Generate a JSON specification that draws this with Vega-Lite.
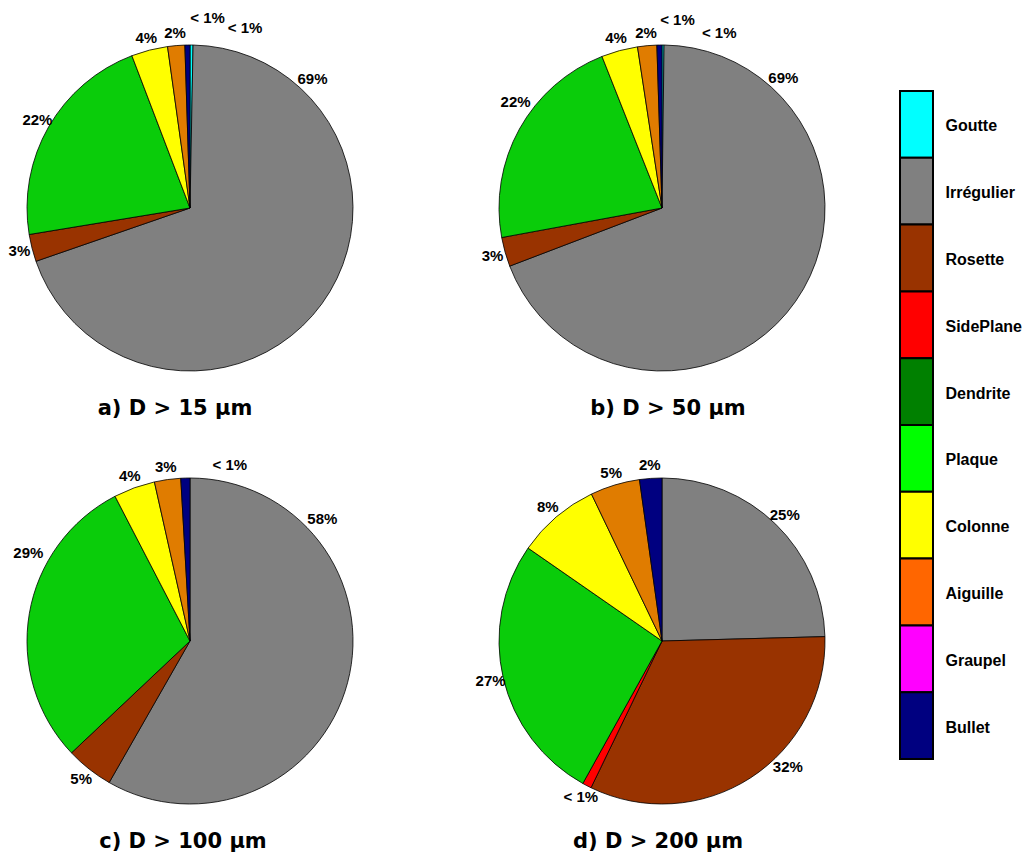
{
  "$schema": "https://vega.github.io/schema/vega-lite/v6.json",
  "padding": {"top": 10, "left": 0, "right": 0, "bottom": 0},
  "background": "white",
  "config": {"view": {"stroke": null}},
  "datasets": {
    "pies": [
      {"panel": "a", "type": "Goutte", "ord": 0, "pct": 0.3, "label": "< 1%"},
      {"panel": "a", "type": "Irrégulier", "ord": 1, "pct": 69.4, "label": "69%"},
      {"panel": "a", "type": "Rosette", "ord": 2, "pct": 2.7, "label": "3%"},
      {"panel": "a", "type": "Plaque", "ord": 5, "pct": 21.8, "label": "22%"},
      {"panel": "a", "type": "Colonne", "ord": 6, "pct": 3.6, "label": "4%"},
      {"panel": "a", "type": "Aiguille", "ord": 7, "pct": 1.7, "label": "2%"},
      {"panel": "a", "type": "Bullet", "ord": 9, "pct": 0.5, "label": "< 1%"},
      {"panel": "b", "type": "Goutte", "ord": 0, "pct": 0.2, "label": "< 1%"},
      {"panel": "b", "type": "Irrégulier", "ord": 1, "pct": 69.0, "label": "69%"},
      {"panel": "b", "type": "Rosette", "ord": 2, "pct": 2.9, "label": "3%"},
      {"panel": "b", "type": "Plaque", "ord": 5, "pct": 21.9, "label": "22%"},
      {"panel": "b", "type": "Colonne", "ord": 6, "pct": 3.6, "label": "4%"},
      {"panel": "b", "type": "Aiguille", "ord": 7, "pct": 1.9, "label": "2%"},
      {"panel": "b", "type": "Bullet", "ord": 9, "pct": 0.5, "label": "< 1%"},
      {"panel": "c", "type": "Irrégulier", "ord": 1, "pct": 58.2, "label": "58%"},
      {"panel": "c", "type": "Rosette", "ord": 2, "pct": 4.7, "label": "5%"},
      {"panel": "c", "type": "Plaque", "ord": 5, "pct": 29.4, "label": "29%"},
      {"panel": "c", "type": "Colonne", "ord": 6, "pct": 4.1, "label": "4%"},
      {"panel": "c", "type": "Aiguille", "ord": 7, "pct": 2.6, "label": "3%"},
      {"panel": "c", "type": "Bullet", "ord": 9, "pct": 0.9, "label": "< 1%"},
      {"panel": "d", "type": "Irrégulier", "ord": 1, "pct": 24.5, "label": "25%"},
      {"panel": "d", "type": "Rosette", "ord": 2, "pct": 32.5, "label": "32%"},
      {"panel": "d", "type": "SidePlane", "ord": 3, "pct": 0.9, "label": "< 1%"},
      {"panel": "d", "type": "Plaque", "ord": 5, "pct": 26.5, "label": "27%"},
      {"panel": "d", "type": "Colonne", "ord": 6, "pct": 8.2, "label": "8%"},
      {"panel": "d", "type": "Aiguille", "ord": 7, "pct": 4.9, "label": "5%"},
      {"panel": "d", "type": "Bullet", "ord": 9, "pct": 2.2, "label": "2%"}
    ],
    "types": [
      {"type": "Goutte", "ord": 0},
      {"type": "Irrégulier", "ord": 1},
      {"type": "Rosette", "ord": 2},
      {"type": "SidePlane", "ord": 3},
      {"type": "Dendrite", "ord": 4},
      {"type": "Plaque", "ord": 5},
      {"type": "Colonne", "ord": 6},
      {"type": "Aiguille", "ord": 7},
      {"type": "Graupel", "ord": 8},
      {"type": "Bullet", "ord": 9}
    ]
  },
  "resolve": {"scale": {"color": "independent"}},
  "spacing": 47,
  "hconcat": [
    {
      "spacing": 32,
      "vconcat": [
        {
          "spacing": 92,
          "hconcat": [
            {
              "width": 380, "height": 380,
              "data": {"name": "pies"},
              "transform": [{"filter": "datum.panel == 'a'"}],
              "title": {"text": "a) D > 15 µm", "orient": "bottom", "font": "DejaVu Sans", "fontSize": 21, "fontWeight": "bold", "color": "black", "offset": 0, "dx": -15},
              "encoding": {
                "theta": {"field": "pct", "type": "quantitative", "stack": true},
                "order": {"field": "ord", "type": "quantitative"}
              },
              "layer": [
                {"mark": {"type": "arc", "outerRadius": 163, "stroke": "black", "strokeWidth": 0.8},
                 "encoding": {"color": {"field": "type", "type": "nominal", "legend": null,
                   "scale": {"domain": ["Goutte","Irrégulier","Rosette","SidePlane","Dendrite","Plaque","Colonne","Aiguille","Graupel","Bullet"],
                             "range": ["#00FFFF","#808080","#993300","#FF0000","#008000","#0ACC0A","#FFFF00","#E07C00","#FF00FF","#000080"]}}}},
                {"mark": {"type": "text", "radius": 176, "font": "Liberation Sans", "fontSize": 15, "fontWeight": "bold", "fill": "black"},
                 "encoding": {"text": {"condition": {"test": "datum.label == '< 1%' || datum.type == 'Irrégulier'", "value": ""}, "field": "label"}}},
                {"transform": [{"filter": "datum.type == 'Irrégulier'"}],
                 "mark": {"type": "text", "theta": 0.759, "radius": 178, "font": "Liberation Sans", "fontSize": 15, "fontWeight": "bold", "fill": "black"},
                 "encoding": {"theta": null, "order": null, "text": {"field": "label"}}},
                {"transform": [{"filter": "datum.type == 'Bullet'"}],
                 "mark": {"type": "text", "theta": 0.092, "radius": 191, "font": "Liberation Sans", "fontSize": 15, "fontWeight": "bold", "fill": "black"},
                 "encoding": {"theta": null, "order": null, "text": {"field": "label"}}},
                {"transform": [{"filter": "datum.type == 'Goutte'"}],
                 "mark": {"type": "text", "theta": 0.297, "radius": 188, "font": "Liberation Sans", "fontSize": 15, "fontWeight": "bold", "fill": "black"},
                 "encoding": {"theta": null, "order": null, "text": {"field": "label"}}}
              ]
            },
            {
              "width": 380, "height": 380,
              "data": {"name": "pies"},
              "transform": [{"filter": "datum.panel == 'b'"}],
              "title": {"text": "b) D > 50 µm", "orient": "bottom", "font": "DejaVu Sans", "fontSize": 21, "fontWeight": "bold", "color": "black", "offset": 0, "dx": 6},
              "encoding": {
                "theta": {"field": "pct", "type": "quantitative", "stack": true},
                "order": {"field": "ord", "type": "quantitative"}
              },
              "layer": [
                {"mark": {"type": "arc", "outerRadius": 163, "stroke": "black", "strokeWidth": 0.8},
                 "encoding": {"color": {"field": "type", "type": "nominal", "legend": null,
                   "scale": {"domain": ["Goutte","Irrégulier","Rosette","SidePlane","Dendrite","Plaque","Colonne","Aiguille","Graupel","Bullet"],
                             "range": ["#00FFFF","#808080","#993300","#FF0000","#008000","#0ACC0A","#FFFF00","#E07C00","#FF00FF","#000080"]}}}},
                {"mark": {"type": "text", "radius": 176, "font": "Liberation Sans", "fontSize": 15, "fontWeight": "bold", "fill": "black"},
                 "encoding": {"text": {"condition": {"test": "datum.label == '< 1%' || datum.type == 'Irrégulier' || datum.type == 'Plaque'", "value": ""}, "field": "label"}}},
                {"transform": [{"filter": "datum.type == 'Irrégulier'"}],
                 "mark": {"type": "text", "theta": 0.750, "radius": 178, "font": "Liberation Sans", "fontSize": 15, "fontWeight": "bold", "fill": "black"},
                 "encoding": {"theta": null, "order": null, "text": {"field": "label"}}},
                {"transform": [{"filter": "datum.type == 'Plaque'"}],
                 "mark": {"type": "text", "theta": 5.341, "radius": 181, "font": "Liberation Sans", "fontSize": 15, "fontWeight": "bold", "fill": "black"},
                 "encoding": {"theta": null, "order": null, "text": {"field": "label"}}},
                {"transform": [{"filter": "datum.type == 'Bullet'"}],
                 "mark": {"type": "text", "theta": 0.082, "radius": 189, "font": "Liberation Sans", "fontSize": 15, "fontWeight": "bold", "fill": "black"},
                 "encoding": {"theta": null, "order": null, "text": {"field": "label"}}},
                {"transform": [{"filter": "datum.type == 'Goutte'"}],
                 "mark": {"type": "text", "theta": 0.316, "radius": 184, "font": "Liberation Sans", "fontSize": 15, "fontWeight": "bold", "fill": "black"},
                 "encoding": {"theta": null, "order": null, "text": {"field": "label"}}}
              ]
            }
          ]
        },
        {
          "spacing": 92,
          "hconcat": [
            {
              "width": 380, "height": 380,
              "data": {"name": "pies"},
              "transform": [{"filter": "datum.panel == 'c'"}],
              "title": {"text": "c) D > 100 µm", "orient": "bottom", "font": "DejaVu Sans", "fontSize": 21, "fontWeight": "bold", "color": "black", "offset": 0, "dx": -7},
              "encoding": {
                "theta": {"field": "pct", "type": "quantitative", "stack": true},
                "order": {"field": "ord", "type": "quantitative"}
              },
              "layer": [
                {"mark": {"type": "arc", "outerRadius": 163, "stroke": "black", "strokeWidth": 0.8},
                 "encoding": {"color": {"field": "type", "type": "nominal", "legend": null,
                   "scale": {"domain": ["Goutte","Irrégulier","Rosette","SidePlane","Dendrite","Plaque","Colonne","Aiguille","Graupel","Bullet"],
                             "range": ["#00FFFF","#808080","#993300","#FF0000","#008000","#0ACC0A","#FFFF00","#E07C00","#FF00FF","#000080"]}}}},
                {"mark": {"type": "text", "radius": 176, "font": "Liberation Sans", "fontSize": 15, "fontWeight": "bold", "fill": "black"},
                 "encoding": {"text": {"condition": {"test": "datum.label == '< 1%' || datum.type == 'Irrégulier' || datum.type == 'Plaque'", "value": ""}, "field": "label"}}},
                {"transform": [{"filter": "datum.type == 'Irrégulier'"}],
                 "mark": {"type": "text", "theta": 0.826, "radius": 180, "font": "Liberation Sans", "fontSize": 15, "fontWeight": "bold", "fill": "black"},
                 "encoding": {"theta": null, "order": null, "text": {"field": "label"}}},
                {"transform": [{"filter": "datum.type == 'Plaque'"}],
                 "mark": {"type": "text", "theta": 5.210, "radius": 184, "font": "Liberation Sans", "fontSize": 15, "fontWeight": "bold", "fill": "black"},
                 "encoding": {"theta": null, "order": null, "text": {"field": "label"}}},
                {"transform": [{"filter": "datum.type == 'Bullet'"}],
                 "mark": {"type": "text", "theta": 0.223, "radius": 180, "font": "Liberation Sans", "fontSize": 15, "fontWeight": "bold", "fill": "black"},
                 "encoding": {"theta": null, "order": null, "text": {"field": "label"}}}
              ]
            },
            {
              "width": 380, "height": 380,
              "data": {"name": "pies"},
              "transform": [{"filter": "datum.panel == 'd'"}],
              "title": {"text": "d) D > 200 µm", "orient": "bottom", "font": "DejaVu Sans", "fontSize": 21, "fontWeight": "bold", "color": "black", "offset": 0, "dx": -4},
              "encoding": {
                "theta": {"field": "pct", "type": "quantitative", "stack": true},
                "order": {"field": "ord", "type": "quantitative"}
              },
              "layer": [
                {"mark": {"type": "arc", "outerRadius": 163, "stroke": "black", "strokeWidth": 0.8},
                 "encoding": {"color": {"field": "type", "type": "nominal", "legend": null,
                   "scale": {"domain": ["Goutte","Irrégulier","Rosette","SidePlane","Dendrite","Plaque","Colonne","Aiguille","Graupel","Bullet"],
                             "range": ["#00FFFF","#808080","#993300","#FF0000","#008000","#0ACC0A","#FFFF00","#E07C00","#FF00FF","#000080"]}}}},
                {"mark": {"type": "text", "radius": 176, "font": "Liberation Sans", "fontSize": 15, "fontWeight": "bold", "fill": "black"},
                 "encoding": {"text": {"condition": {"test": "datum.type == 'Rosette'", "value": ""}, "field": "label"}}},
                {"transform": [{"filter": "datum.type == 'Rosette'"}],
                 "mark": {"type": "text", "theta": 2.356, "radius": 178, "font": "Liberation Sans", "fontSize": 15, "fontWeight": "bold", "fill": "black"},
                 "encoding": {"theta": null, "order": null, "text": {"field": "label"}}}
              ]
            }
          ]
        }
      ]
    },
    {
      "width": 33, "height": 741,
      "data": {"name": "types"},
      "mark": {"type": "rect", "stroke": "black", "strokeWidth": 2},
      "encoding": {
        "y": {"field": "type", "type": "nominal",
              "sort": ["Goutte","Irrégulier","Rosette","SidePlane","Dendrite","Plaque","Colonne","Aiguille","Graupel","Bullet"],
              "scale": {"range": [73, 741], "paddingInner": 0, "paddingOuter": 0},
              "axis": {"orient": "right", "title": null, "domain": false, "ticks": false, "grid": false, "labelPadding": 12, "labelOffset": 2,
                       "labelFont": "Liberation Sans", "labelFontSize": 16, "labelFontWeight": "bold", "labelColor": "black"}},
        "x": {"value": 0},
        "x2": {"value": "width"},
        "color": {"field": "type", "type": "nominal", "legend": null,
                  "scale": {"domain": ["Goutte","Irrégulier","Rosette","SidePlane","Dendrite","Plaque","Colonne","Aiguille","Graupel","Bullet"],
                            "range": ["#00FFFF","#808080","#993300","#FF0000","#008000","#00FF00","#FFFF00","#FF6600","#FF00FF","#000080"]}}
      }
    }
  ]
}
